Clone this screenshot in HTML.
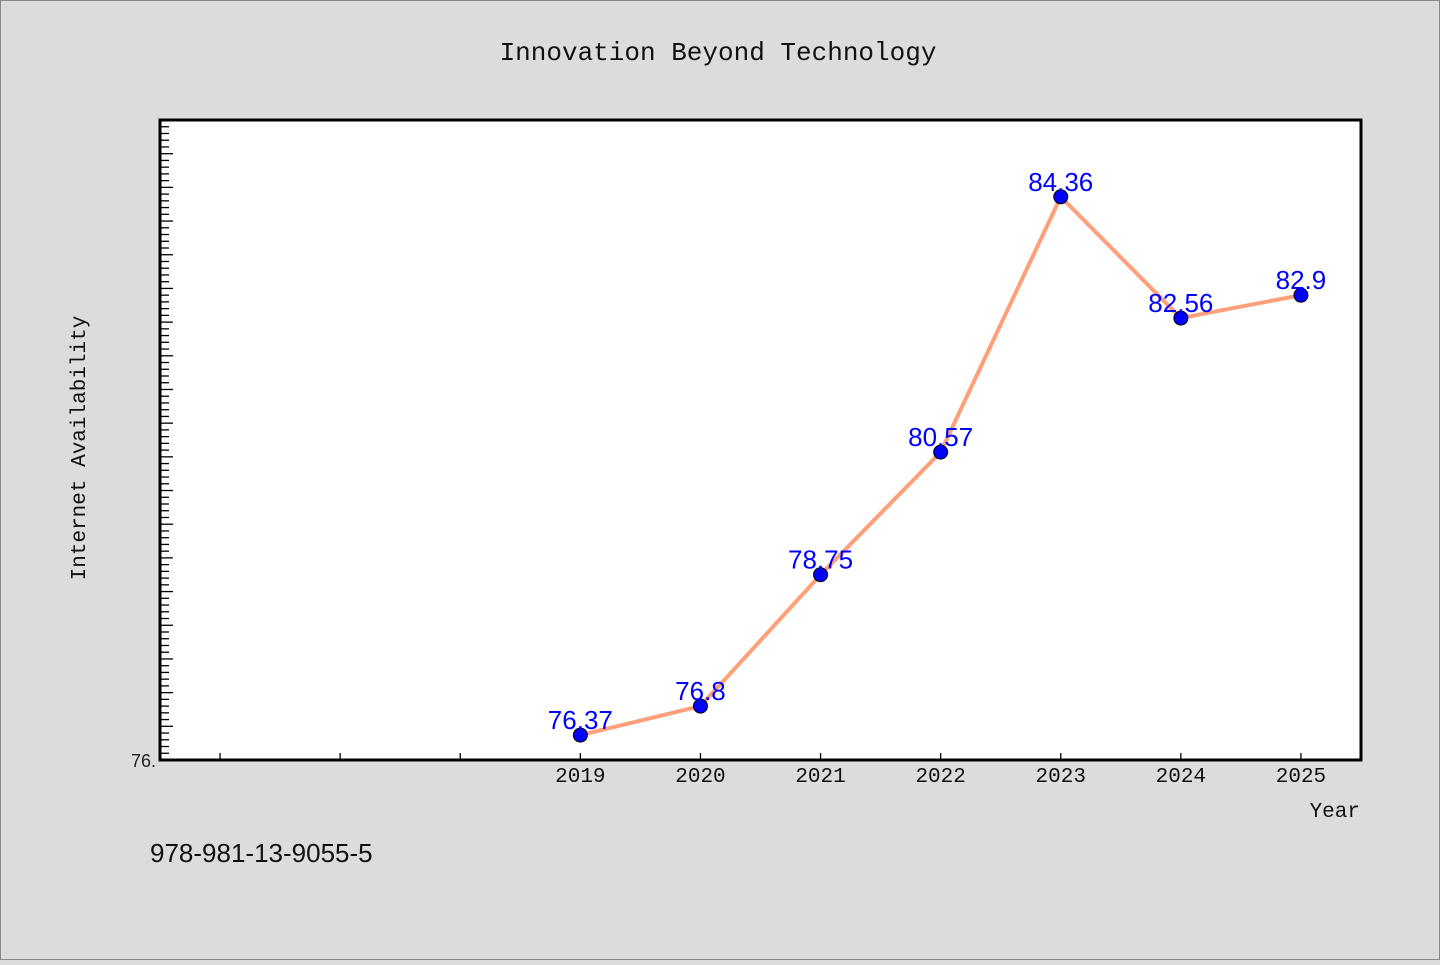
<!DOCTYPE html>
<html><head><meta charset="utf-8"><style>
body{margin:0;background:#dcdcdc;width:1440px;height:960px;overflow:hidden;font-family:"Liberation Mono","DejaVu Sans Mono",monospace}
</style></head><body>
<svg id="c" width="1440" height="960" xmlns="http://www.w3.org/2000/svg">
<rect x="0.5" y="0.5" width="1439" height="959" fill="#dcdcdc" stroke="#888"/>
<text x="718" y="60" text-anchor="middle" font-size="26" fill="#111" font-family="Liberation Mono, DejaVu Sans Mono, monospace">Innovation Beyond Technology</text>
<rect x="160" y="120" width="1201" height="640" fill="#fff" stroke="#000" stroke-width="3"/>
<g id="ticks"></g>
<g id="marks"></g>
<text x="85" y="448" transform="rotate(-90 85 448)" text-anchor="middle" font-size="21" fill="#111">Internet Availability</text>
<text x="1360" y="817" text-anchor="end" font-size="21" fill="#111">Year</text>
<text x="150" y="862" font-size="26" fill="#111" font-family="Liberation Sans, sans-serif">978-981-13-9055-5</text>
</svg>
<script>
const years=[2019,2020,2021,2022,2023,2024,2025];
const values=[76.37,76.8,78.75,80.57,84.36,82.56,82.9];
const labels=["76.37","76.8","78.75","80.57","84.36","82.56","82.9"];
const xTicks=[2016,2017,2018,2019,2020,2021,2022,2023,2024,2025];
const X0=160,X1=1361,Y0=760,Y1=120,xmin=2015.5,xmax=2025.5,ymin=76,ymax=85.5;
const sx=v=>X0+(v-xmin)/(xmax-xmin)*(X1-X0);
const sy=v=>Y0-(v-ymin)/(ymax-ymin)*(Y0-Y1);
const NS="http://www.w3.org/2000/svg";
function mk(t,a,p){const e=document.createElementNS(NS,t);for(const k in a)e.setAttribute(k,a[k]);p.appendChild(e);return e;}
const tg=document.getElementById('ticks'),mg=document.getElementById('marks');
for(let i=1;i<=95;i++){const v=ymin+i*0.1;const y=sy(v);const maj=i%5===0;
 const l=mk('line',{x1:161,x2:maj?173:169,y1:y,y2:y,stroke:'#000','stroke-width':1.3},tg);
 }
const yl=mk('text',{x:156,y:767,'text-anchor':'end','font-size':18,fill:'#222','font-family':'Liberation Sans, sans-serif'},tg);yl.textContent='76.';

xTicks.forEach(t=>{const x=sx(t);const l=mk('line',{x1:x,x2:x,y1:759,y2:753,stroke:'#000','stroke-width':1.3},tg);
 
 if(years.includes(t)){const tx=mk('text',{x:x,y:782,'text-anchor':'middle','font-size':21,fill:'#111'},tg);tx.textContent=t;
 }});
const pts=years.map((y,i)=>sx(y)+','+sy(values[i])).join(' ');
const pl=mk('polyline',{points:pts,fill:'none',stroke:'#ffa07a','stroke-width':4},mg);

years.forEach((y,i)=>{const c=mk('circle',{cx:sx(y),cy:sy(values[i]),r:7,fill:'#0000ff',stroke:'#000','stroke-width':1},mg);
 
 const t=mk('text',{x:sx(y),y:sy(values[i])-6,'text-anchor':'middle','font-size':26,fill:'#0000ff','font-family':'Liberation Sans, sans-serif'},mg);t.textContent=labels[i];
 });
</script>
</body></html>
